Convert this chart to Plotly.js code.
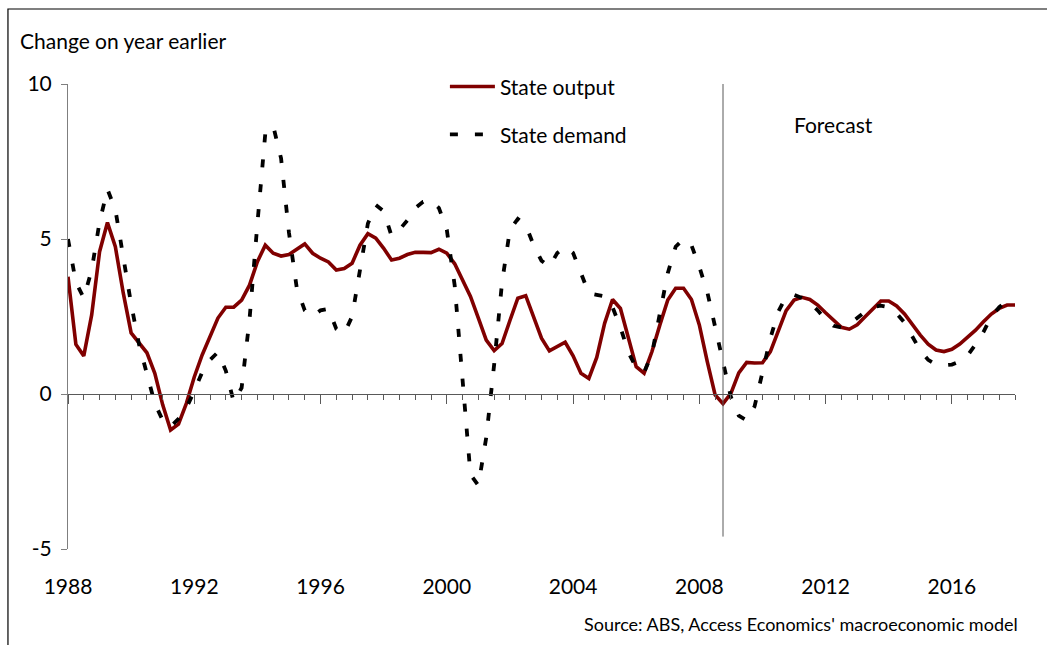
<!DOCTYPE html>
<html>
<head>
<meta charset="utf-8">
<script src="https://cdn.plot.ly/plotly-3.0.1.min.js"></script>
<style>
  html, body { margin: 0; padding: 0; background: #ffffff; }
  #chart { width: 1047px; height: 645px; }
</style>
</head>
<body>
<div id="chart"></div>
<script>
// Quarterly series, 1988 Q1 to 2018 Q1 (% change on year earlier)
const startYear = 1988;
const stateOutput = [
  3.78, 1.60, 1.23, 2.55, 4.59, 5.53, 4.75, 3.26, 1.97, 1.64,
  1.33, 0.67, -0.35, -1.16, -0.97, -0.30, 0.55, 1.26, 1.85, 2.45,
  2.80, 2.80, 3.03, 3.51, 4.27, 4.80, 4.54, 4.45, 4.50, 4.68,
  4.84, 4.54, 4.38, 4.26, 4.00, 4.05, 4.22, 4.80, 5.17, 5.03,
  4.70, 4.32, 4.38, 4.50, 4.57, 4.57, 4.56, 4.67, 4.54, 4.20,
  3.68, 3.15, 2.45, 1.74, 1.40, 1.63, 2.37, 3.09, 3.17, 2.49,
  1.80, 1.39, 1.53, 1.67, 1.23, 0.67, 0.50, 1.18, 2.28, 3.05,
  2.76, 1.82, 0.88, 0.67, 1.37, 2.23, 3.03, 3.41, 3.41, 3.05,
  2.23, 1.05, -0.03, -0.31, 0.02, 0.68, 1.02, 1.00, 1.01, 1.37,
  2.01, 2.69, 3.03, 3.12, 3.05, 2.87, 2.62, 2.39, 2.15, 2.09,
  2.23, 2.49, 2.76, 3.00, 3.00, 2.84, 2.58, 2.23, 1.90, 1.61,
  1.42, 1.37, 1.44, 1.61, 1.83, 2.06, 2.33, 2.58, 2.76, 2.87,
  2.87
];
const stateDemand = [
  5.00, 3.60, 3.10, 4.00, 5.55, 6.60, 5.95, 4.40, 2.90, 1.60,
  0.70, -0.30, -0.85, -1.05, -0.80, -0.45, 0.10, 0.70, 1.10, 1.35,
  0.75, -0.25, 0.20, 2.40, 5.50, 8.40, 8.65, 7.60, 5.20, 3.40,
  2.70, 2.50, 2.70, 2.75, 2.10, 1.95, 2.50, 4.00, 5.50, 6.10,
  5.90, 5.10, 5.30, 5.60, 6.00, 6.20, 6.25, 6.00, 5.30, 3.50,
  0.30, -2.60, -2.95, -1.40, 0.95, 3.60, 5.30, 5.65, 5.45, 4.80,
  4.30, 4.10, 4.55, 4.75, 4.55, 3.90, 3.25, 3.20, 3.15, 2.80,
  2.15, 1.35, 0.85, 0.70, 1.30, 2.60, 3.90, 4.75, 5.00, 4.80,
  4.10, 3.30, 2.20, 1.10, -0.10, -0.70, -0.85, -0.40, 0.75, 1.80,
  2.65, 3.15, 3.20, 3.10, 2.95, 2.70, 2.40, 2.20, 2.15, 2.25,
  2.45, 2.65, 2.80, 2.85, 2.80, 2.60, 2.30, 1.85, 1.40, 1.10,
  0.95, 0.93, 0.95, 1.05, 1.25, 1.60, 2.00, 2.50, 2.80, 3.00,
  3.05
];
const tickYears = [1988, 1992, 1996, 2000, 2004, 2008, 2012, 2016];
const tickLabels = ['1988', '1992', '1996', '2000', '2004', '2008', '2012', '2016'];
const yTicks = [-5, 0, 5, 10];
const yTickLabels = ['-5', '0', '5', '10'];
const forecastStart = 2008.75;
const seriesNames = ['State output', 'State demand'];

const years = stateOutput.map((_, i) => startYear + i / 4);

const FONT = 'Lato, "Noto Sans", "Liberation Sans", sans-serif';
const AXIS = '#7f7f7f';
const FS = 21;

const traces = [
  {
    x: years, y: stateOutput, type: 'scatter', mode: 'lines',
    name: seriesNames[0], legend: 'legend',
    line: { color: '#800000', width: 3.6 }
  },
  {
    x: years, y: stateDemand, type: 'scatter', mode: 'lines',
    name: seriesNames[1], legend: 'legend2',
    line: { color: '#000000', width: 3.8, dash: '8px,17px' }
  },
  { x: [], y: [], xaxis: 'x2', yaxis: 'y', showlegend: false, hoverinfo: 'skip' }
];

const layout = {
  width: 1047, height: 645,
  margin: { l: 68, r: 32, t: 84, b: 96 },
  paper_bgcolor: '#ffffff', plot_bgcolor: '#ffffff',
  font: { family: FONT, size: FS, color: '#000000' },
  showlegend: true,
  xaxis: {
    range: [1988, 2018], anchor: 'free', position: 1 / 3,
    showline: true, linecolor: '#595959', linewidth: 1,
    showgrid: false, zeroline: false,
    ticks: 'outside', tickmode: 'array', tickvals: tickYears,
    ticklen: 9, tickcolor: '#595959', tickwidth: 1,
    showticklabels: false,
    minor: { tick0: 1988, dtick: 0.5, ticks: 'outside', ticklen: 5, tickcolor: '#595959', tickwidth: 1, showgrid: false }
  },
  xaxis2: {
    overlaying: 'x', range: [1988, 2018], anchor: 'free', position: 0,
    showline: false, showgrid: false, zeroline: false, ticks: '',
    tickmode: 'array', tickvals: tickYears, ticktext: tickLabels,
    tickfont: { family: FONT, size: FS, color: '#000000' },
    ticklabelstandoff: 23
  },
  yaxis: {
    range: [-5, 10], showline: true, linecolor: AXIS, linewidth: 1,
    showgrid: false, zeroline: false,
    ticks: 'outside', ticklen: 6, tickcolor: AXIS, tickwidth: 1,
    tickmode: 'array', tickvals: yTicks, ticktext: yTickLabels,
    tickfont: { family: FONT, size: FS, color: '#000000' },
    ticklabelstandoff: 5
  },
  legend: {
    x: 0.398, y: 1.038, xanchor: 'left', yanchor: 'top',
    bgcolor: 'rgba(0,0,0,0)', borderwidth: 0,
    font: { family: FONT, size: FS, color: '#000000' },
    itemwidth: 45
  },
  legend2: {
    x: 0.398, y: 0.935, xanchor: 'left', yanchor: 'top',
    bgcolor: 'rgba(0,0,0,0)', borderwidth: 0,
    font: { family: FONT, size: FS, color: '#000000' },
    itemwidth: 45
  },
  shapes: [
    {
      type: 'line', xref: 'x', yref: 'y',
      x0: forecastStart, x1: forecastStart, y0: -4.6, y1: 10.3,
      line: { color: '#595959', width: 1 }
    },
    {
      type: 'rect', xref: 'paper', yref: 'paper',
      x0: -0.0634, x1: 1.2, y0: -0.3, y1: 1.1613,
      line: { color: '#000000', width: 1.2 }, fillcolor: 'rgba(0,0,0,0)'
    }
  ],
  annotations: [
    {
      text: 'Change on year earlier', xref: 'paper', yref: 'paper',
      x: -0.0527, y: 1.0935, xanchor: 'left', yanchor: 'middle', showarrow: false,
      font: { family: FONT, size: FS, color: '#000000' }
    },
    {
      text: 'Forecast', xref: 'x', yref: 'y',
      x: 2010.95, y: 8.68, xanchor: 'left', yanchor: 'middle', showarrow: false,
      font: { family: FONT, size: FS, color: '#000000' }
    },
    {
      text: "Source: ABS, Access Economics' macroeconomic model", xref: 'paper', yref: 'paper',
      x: 1.0058, y: -0.161, xanchor: 'right', yanchor: 'middle', showarrow: false,
      font: { family: FONT, size: 18, color: '#000000' }
    }
  ]
};

Plotly.newPlot('chart', traces, layout, { displayModeBar: false, responsive: false });
</script>
</body>
</html>
